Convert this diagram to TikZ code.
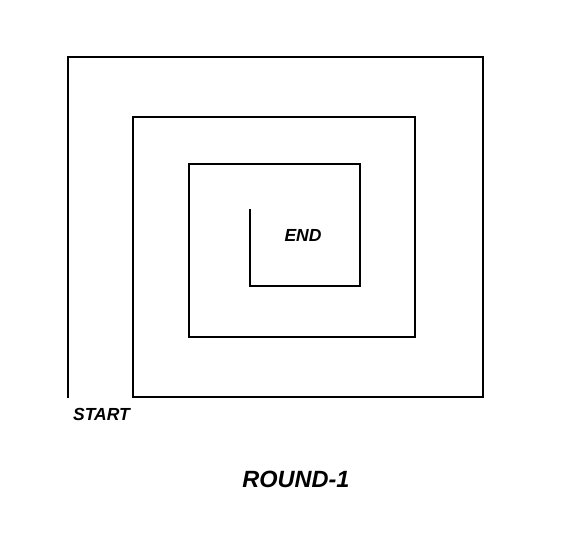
\documentclass[tikz,border=0pt]{standalone}
\usepackage{fontspec}
\setmainfont{Liberation Sans}
\begin{document}
\begin{tikzpicture}[x=1pt,y=-1pt,
  spiral/.style={line width=2.4pt,line join=miter,black},
  lbl/.style={inner sep=0pt,anchor=base,font=\bfseries\itshape\fontsize{17.5}{20}\selectfont},
  title/.style={inner sep=0pt,anchor=base,font=\bfseries\itshape\fontsize{23.5}{27}\selectfont}]
\useasboundingbox[fill=white] (0,0) rectangle (572,554);
\draw[spiral] (68,398) -- (68,57) -- (483,57) -- (483,397) -- (133,397)
  -- (133,117) -- (415,117) -- (415,337) -- (189,337) -- (189,164)
  -- (360,164) -- (360,286) -- (250,286) -- (250,209);
\node[lbl] (start) at (101.5,420) {START};
\node[lbl] (end) at (303,241.7) {END};
\node[title] (round) at (296,487.7) {ROUND-1};
\end{tikzpicture}
\end{document}
